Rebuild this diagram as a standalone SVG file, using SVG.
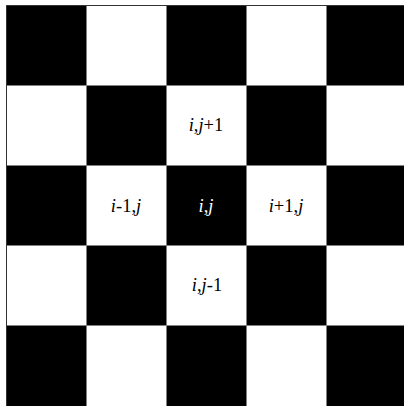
<svg xmlns="http://www.w3.org/2000/svg" width="404" height="406" viewBox="0 0 404 406">
<style>
.b{fill:#000}
.w{fill:#fff}
.g{stroke:#808080;stroke-width:1;fill:none}
text{font-family:"Liberation Serif","DejaVu Serif",serif;font-size:18.5px;text-anchor:middle}
.it{font-style:italic}
.lt{fill:#000}
.dk{fill:#fff}
</style>
<rect x="0" y="0" width="404" height="406" fill="#fff"/>
<g id="board">
<rect class="b" x="6" y="5" width="80.5" height="80"/>
<rect class="b" x="166.5" y="5" width="80" height="80"/>
<rect class="b" x="326.5" y="5" width="80" height="80"/>
<rect class="b" x="86.5" y="85" width="80" height="80"/>
<rect class="b" x="246.5" y="85" width="80" height="80"/>
<rect class="b" x="6" y="165" width="80.5" height="80"/>
<rect class="b" x="166.5" y="165" width="80" height="80"/>
<rect class="b" x="326.5" y="165" width="80" height="80"/>
<rect class="b" x="86.5" y="245" width="80" height="80"/>
<rect class="b" x="246.5" y="245" width="80" height="80"/>
<rect class="b" x="6" y="325" width="80.5" height="82"/>
<rect class="b" x="166.5" y="325" width="80" height="82"/>
<rect class="b" x="326.5" y="325" width="80" height="82"/>
</g>
<g id="connectors">
<path class="g" d="M6.5 5.5H404M6.5 5.5V406M86.5 5V406M166.5 5V406M246.5 5V406M326.5 5V406M6 85.5H404M6 165.5H404M6 245.5H404M6 325.5H404"/>
<path d="M6.5 5.5H404M6.5 5.5V406" stroke="#333" stroke-width="1" fill="none"/>
</g>
<g id="n-ij1"><text class="lt" x="206" y="131"><tspan class="it">i</tspan>,<tspan class="it">j</tspan>+1</text></g>
<g id="n-im1j"><text class="lt" x="126" y="212"><tspan class="it">i</tspan>-1,<tspan class="it">j</tspan></text></g>
<g id="n-ij"><text class="dk" x="206" y="212"><tspan class="it">i</tspan>,<tspan class="it">j</tspan></text></g>
<g id="n-ip1j"><text class="lt" x="286" y="212"><tspan class="it">i</tspan>+1,<tspan class="it">j</tspan></text></g>
<g id="n-ijm1"><text class="lt" x="207" y="291"><tspan class="it">i</tspan>,<tspan class="it">j</tspan>-1</text></g>
</svg>
